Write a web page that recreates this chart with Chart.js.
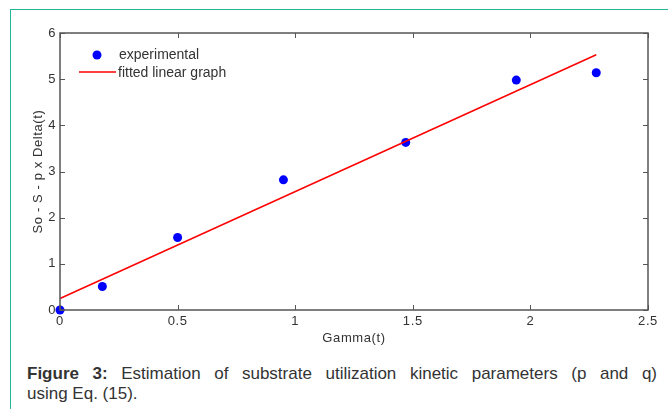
<!DOCTYPE html>
<html>
<head>
<meta charset="utf-8">
<script src="https://cdn.jsdelivr.net/npm/chart.js@4.4.0/dist/chart.umd.min.js"></script>
<style>
  html, body { margin: 0; padding: 0; background: #fff; }
  body { width: 668px; height: 409px; position: relative; overflow: hidden; font-family: "Liberation Sans", Arial, sans-serif; }
  #frame { position: absolute; left: 10px; top: 9px; width: 700px; height: 500px; border-left: 1px solid #26b39c; border-top: 1px solid #26b39c; }
  #box { position: absolute; left: 0; top: 0; width: 668px; height: 350px; }
  #caption { position: absolute; left: 27px; top: 364px; width: 630px; font-size: 17px; line-height: 20px; color: #333; }
  #caption .l1 { text-align: justify; text-align-last: justify; }
</style>
</head>
<body>
<div id="frame"></div>
<div id="box"><canvas id="chart"></canvas></div>
<div id="caption">
  <div class="l1"><b>Figure 3:</b> Estimation of substrate utilization kinetic parameters (p and q)</div>
  <div>using Eq. (15).</div>
</div>
<script>
document.addEventListener("DOMContentLoaded", function () {
  const gammaValues = [0, 0.18, 0.5, 0.95, 1.47, 1.94, 2.28];
  const experimentalValues = [0, 0.51, 1.57, 2.82, 3.63, 4.98, 5.14];
  const fitX = [0, 2.28];
  const fitY = [0.25, 5.53];
  const xTicks = [0, 0.5, 1, 1.5, 2, 2.5];
  const yTicks = [0, 1, 2, 3, 4, 5, 6];

  const axisColor = "#555";
  const fontFamily = "'Liberation Sans', Arial, sans-serif";

  // matlab style box with inward ticks + legend inside plot
  const boxPlugin = {
    id: "boxPlugin",
    beforeDraw(chart) {
      chart.ctx.letterSpacing = "0.6px";
    },
    afterDatasetsDraw(chart) {
      const ctx = chart.ctx;
      const a = chart.chartArea;
      const xs = chart.scales.x;
      const ys = chart.scales.y;
      const len = 5;
      ctx.save();
      ctx.strokeStyle = axisColor;
      ctx.lineWidth = 1;
      ctx.beginPath();
      xTicks.forEach(function (v) {
        const px = Math.round(xs.getPixelForValue(v)) + 0.5;
        ctx.moveTo(px, a.bottom); ctx.lineTo(px, a.bottom - len);
        ctx.moveTo(px, a.top); ctx.lineTo(px, a.top + len);
      });
      yTicks.forEach(function (v) {
        const py = Math.round(ys.getPixelForValue(v)) + 0.5;
        ctx.moveTo(a.left, py); ctx.lineTo(a.left + len, py);
        ctx.moveTo(a.right, py); ctx.lineTo(a.right - len, py);
      });
      ctx.stroke();
      ctx.lineWidth = 1.5;
      ctx.strokeRect(a.left, a.top, a.right - a.left, a.bottom - a.top);

      // legend
      ctx.letterSpacing = "0px";
      ctx.font = "14px " + fontFamily;
      ctx.textBaseline = "middle";
      ctx.fillStyle = "#0000ff";
      ctx.beginPath();
      ctx.arc(a.left + 37, a.top + 22, 4.5, 0, Math.PI * 2);
      ctx.fill();
      ctx.fillStyle = "#333";
      ctx.fillText("experimental", a.left + 59, a.top + 22);
      ctx.strokeStyle = "#ff0000";
      ctx.lineWidth = 1.5;
      ctx.beginPath();
      ctx.moveTo(a.left + 19, a.top + 39);
      ctx.lineTo(a.left + 56, a.top + 39);
      ctx.stroke();
      ctx.fillText("fitted linear graph", a.left + 58, a.top + 40);
      ctx.restore();
    }
  };

  new Chart(document.getElementById("chart"), {
    type: "scatter",
    data: {
      datasets: [
        {
          label: "fitted linear graph",
          type: "line",
          data: fitX.map(function (x, i) { return { x: x, y: fitY[i] }; }),
          borderColor: "#ff0000",
          borderWidth: 1.5,
          pointRadius: 0,
          fill: false,
        },
        {
          label: "experimental",
          data: gammaValues.map(function (x, i) { return { x: x, y: experimentalValues[i] }; }),
          backgroundColor: "#0000ff",
          borderColor: "#0000ff",
          pointRadius: 4.5,
          borderWidth: 0,
        },
      ],
    },
    options: {
      responsive: true,
      maintainAspectRatio: false,
      animation: false,
      clip: false,
      layout: { padding: { left: 0, right: 20, top: 33, bottom: 0 } },
      plugins: { legend: { display: false }, tooltip: { enabled: false } },
      scales: {
        x: {
          type: "linear",
          min: 0,
          max: 2.5,
          afterBuildTicks: function (s) { s.ticks = xTicks.map(function (v) { return { value: v }; }); },
          afterFit: function (s) { s.height = 40; },
          grid: { display: false, drawTicks: false },
          border: { display: false },
          ticks: { color: "#333", padding: 4, font: { size: 13, family: fontFamily }, callback: function (v) { return String(v); } },
          title: { display: true, text: "Gamma(t)", color: "#333", padding: { top: 0, bottom: 4 }, font: { size: 13, family: fontFamily } },
        },
        y: {
          type: "linear",
          min: 0,
          max: 6,
          afterBuildTicks: function (s) { s.ticks = yTicks.map(function (v) { return { value: v }; }); },
          afterFit: function (s) { s.width = 60; },
          grid: { display: false, drawTicks: false },
          border: { display: false },
          ticks: { color: "#333", padding: 4, font: { size: 13, family: fontFamily }, callback: function (v) { return String(v); } },
          title: { display: true, text: "So - S - p x Delta(t)", color: "#333", padding: { top: 31, bottom: 0 }, font: { size: 13, family: fontFamily } },
        },
      },
    },
    plugins: [boxPlugin],
  });
});
</script>
</body>
</html>
